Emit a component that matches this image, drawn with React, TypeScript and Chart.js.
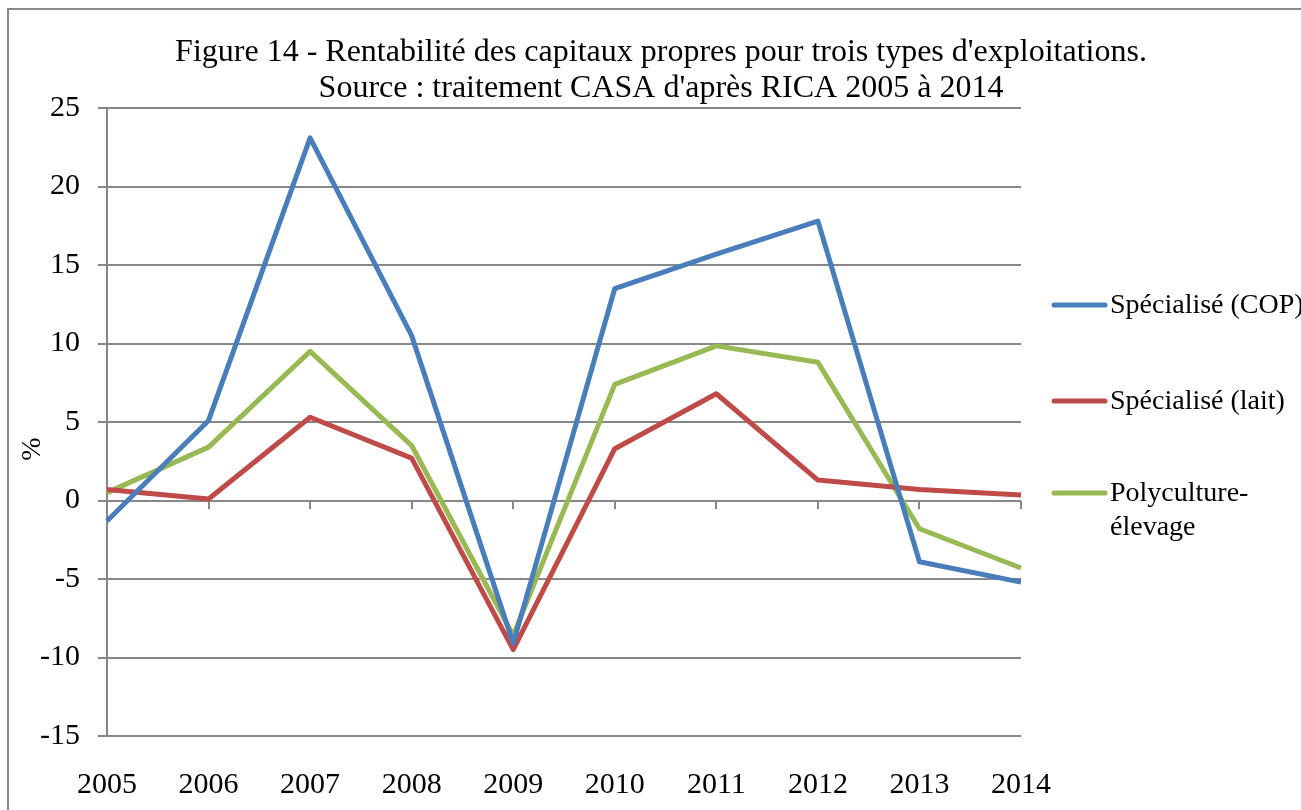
import React, { useEffect, useRef } from "react";
import { Chart, registerables } from "chart.js";

Chart.register(...registerables);

const years = ["2005", "2006", "2007", "2008", "2009", "2010", "2011", "2012", "2013", "2014"];
const copValues = [-1.3, 5.1, 23.1, 10.5, -9.1, 13.5, 15.7, 17.8, -3.9, -5.2];
const laitValues = [0.7, 0.1, 5.3, 2.7, -9.5, 3.3, 6.8, 1.3, 0.7, 0.35];
const polyValues = [0.5, 3.4, 9.5, 3.5, -8.6, 7.4, 9.85, 8.8, -1.8, -4.3];
const seriesNames = ["Spécialisé (COP)", "Spécialisé (lait)", ["Polyculture-", "élevage"]];
const titleLines = [
  "Figure 14 - Rentabilité des capitaux propres pour trois types d'exploitations.",
  "Source : traitement CASA d'après RICA 2005 à 2014",
];
const yTitle = "%";

const FONT = "'Liberation Serif', 'Times New Roman', serif";
const BLUE = "#4A7EBB";
const RED = "#BE4B48";
const GREEN = "#98B954";
const GRID = "#878787";

const textPlugin = {
  id: "textPlugin",
  afterDraw(chart: any) {
    const ctx = chart.ctx;
    ctx.save();
    ctx.fillStyle = "#000";
    ctx.font = `32px ${FONT}`;
    ctx.textAlign = "center";
    ctx.textBaseline = "alphabetic";
    ctx.fillText(titleLines[0], 661, 61);
    ctx.fillText(titleLines[1], 661, 97);

    // y axis title
    ctx.save();
    ctx.translate(33, 449);
    ctx.rotate(-Math.PI / 2);
    ctx.font = `28px ${FONT}`;
    ctx.textBaseline = "middle";
    ctx.fillText(yTitle, 0, 0);
    ctx.restore();

    // legend
    const items = [
      { color: BLUE, y: 305 },
      { color: RED, y: 401 },
      { color: GREEN, y: 493 },
    ];
    ctx.font = `28px ${FONT}`;
    ctx.textAlign = "left";
    ctx.textBaseline = "middle";
    items.forEach((it, i) => {
      ctx.strokeStyle = it.color;
      ctx.lineWidth = 5;
      ctx.lineCap = "round";
      ctx.beginPath();
      ctx.moveTo(1054, it.y);
      ctx.lineTo(1105, it.y);
      ctx.stroke();
      const name = seriesNames[i];
      const lines = Array.isArray(name) ? name : [name];
      lines.forEach((l, j) => ctx.fillText(l, 1110, it.y + 1 + j * 34));
    });
    ctx.restore();
  },
};

export default function App() {
  const ref = useRef<HTMLCanvasElement>(null);
  useEffect(() => {
    document.body.style.margin = "0";
    const canvas = ref.current!;
    const chart = new Chart(canvas, {
      type: "line",
      data: {
        labels: years,
        datasets: [
          { label: "COP", data: copValues, borderColor: BLUE, xAxisID: "x", yAxisID: "y" },
          { label: "lait", data: laitValues, borderColor: RED, xAxisID: "x", yAxisID: "y" },
          { label: "poly", data: polyValues, borderColor: GREEN, xAxisID: "x", yAxisID: "y" },
        ].map((d) => ({
          ...d,
          borderWidth: 5,
          pointRadius: 0,
          pointHoverRadius: 0,
          tension: 0,
          fill: false,
          borderJoinStyle: "round" as const,
          borderCapStyle: "butt" as const,
        })),
      },
      options: {
        animation: false,
        responsive: false,
        maintainAspectRatio: false,
        events: [],
        layout: { padding: { top: 108, right: 280, left: 0, bottom: 0 } },
        plugins: { legend: { display: false }, title: { display: false }, tooltip: { enabled: false } },
        scales: {
          x: {
            type: "category",
            position: "bottom",
            offset: false,
            grid: { display: false, drawTicks: false },
            border: { display: false },
            ticks: {
              color: "#000",
              font: { family: FONT, size: 30 },
              padding: 31,
              maxRotation: 0,
              autoSkip: false,
            },
            afterFit(scale: any) {
              scale.height = 74;
            },
          },
          x0: {
            type: "category",
            position: { y: 0 } as any,
            offset: false,
            grid: { display: true, drawOnChartArea: false, drawTicks: true, tickLength: 8, color: GRID, lineWidth: 2 },
            border: { display: false },
            ticks: { display: false, autoSkip: false },
          },
          y: {
            type: "linear",
            position: "left",
            min: -15,
            max: 25,
            grid: { color: GRID, lineWidth: 2, tickLength: 9, drawTicks: true },
            border: { display: true, color: GRID, width: 2 },
            ticks: {
              stepSize: 5,
              color: "#000",
              font: { family: FONT, size: 30 },
              padding: 18,
            },
            afterFit(scale: any) {
              scale.width = 107;
            },
          },
        },
      },
      plugins: [textPlugin],
    });
    return () => chart.destroy();
  }, []);
  return (
    <div style={{ position: "relative", width: 1301, height: 810, overflow: "hidden", background: "#fff" }}>
      <div
        style={{
          position: "absolute",
          left: 7,
          top: 8,
          width: 1400,
          height: 900,
          border: "2px solid #898989",
          boxSizing: "border-box",
        }}
      />
      <canvas ref={ref} width={1301} height={810} style={{ position: "absolute", left: 0, top: 0, width: 1301, height: 810 }} />
    </div>
  );
}
